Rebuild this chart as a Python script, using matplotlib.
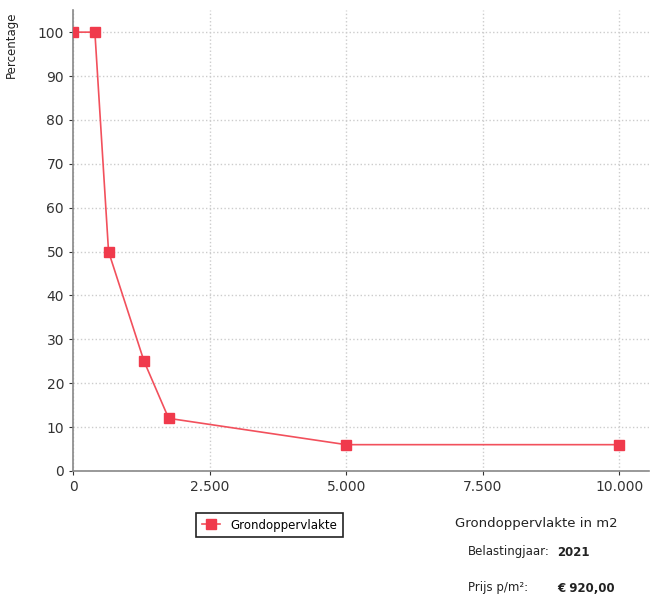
import matplotlib.pyplot as plt
from matplotlib.ticker import FuncFormatter

# data
oppervlakte = [0, 400, 650, 1300, 1750, 5000, 10000]
percentage = [100, 100, 50, 25, 12, 6, 6]
x_ticks = [0, 2500, 5000, 7500, 10000]
y_ticks = list(range(0, 101, 10))

fig = plt.figure(figsize=(6.55, 6.0), dpi=100)
ax = fig.add_axes([0.1115, 0.215, 0.88, 0.768])

ax.plot(oppervlakte, percentage, color='#f2505c', linewidth=1.2,
        marker='s', markersize=7.5, markerfacecolor='#f03a4c',
        markeredgecolor='#f03a4c', label='Grondoppervlakte', zorder=3)

ax.set_xlim(0, 10550)
ax.set_ylim(0, 105)
ax.set_xticks(x_ticks)
ax.set_yticks(y_ticks)
ax.xaxis.set_major_formatter(FuncFormatter(lambda v, p: f'{int(v):,}'.replace(',', '.')))
ax.tick_params(labelsize=10, colors='#333333', length=3)
ax.grid(True, linestyle=':', color='#cccccc', linewidth=1)

for s in ['top', 'right']:
    ax.spines[s].set_visible(False)
for s in ['left', 'bottom']:
    ax.spines[s].set_color('#888888')
    ax.spines[s].set_linewidth(1.2)

fig.text(0.018, 0.925, 'Percentage', rotation=90, fontsize=8.5,
         ha='center', va='center', color='#222222')

leg = ax.legend(loc='center', bbox_to_anchor=(0.411, 0.125),
                bbox_transform=fig.transFigure, fontsize=8.5, fancybox=False,
                edgecolor='#222222', framealpha=1, handlelength=1.6,
                borderpad=0.5)
leg.get_frame().set_linewidth(1.2)

fig.text(0.695, 0.128, 'Grondoppervlakte in m2', fontsize=9.5, va='center', color='#222222')
fig.text(0.715, 0.080, 'Belastingjaar:', fontsize=8.5, va='center', color='#222222')
fig.text(0.85, 0.080, '2021', fontsize=8.5, va='center', color='#222222', fontweight='bold')
fig.text(0.715, 0.020, 'Prijs p/m²:', fontsize=8.5, va='center', color='#222222')
fig.text(0.85, 0.020, '€ 920,00', fontsize=8.5, va='center', color='#222222', fontweight='bold')

fig.savefig('out.png', dpi=100)
